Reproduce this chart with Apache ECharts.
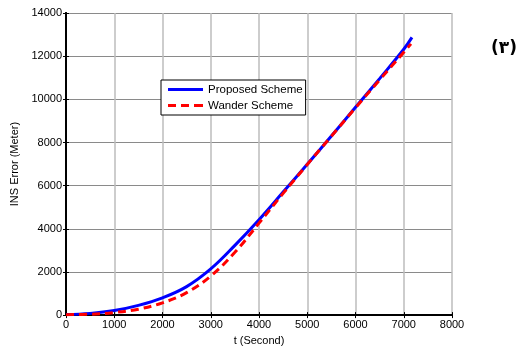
<!DOCTYPE html>
<html>
<head>
<meta charset="utf-8">
<script src="https://cdn.jsdelivr.net/npm/echarts@6/dist/echarts.min.js"></script>
<style>
  html, body { margin: 0; padding: 0; background: #fff; }
  #chart { width: 530px; height: 351px; }
</style>
</head>
<body>
<div id="chart"></div>
<script>
// Time stamps (s) and INS position error (m) for each scheme
const timeProposed = [0, 500, 1000, 1500, 2000, 2500, 3000, 3500, 4000, 4500, 5000, 5500, 6000, 6500, 7000, 7170];
const errProposed  = [30, 80, 210, 450, 800, 1320, 2140, 3230, 4420, 5700, 6990, 8300, 9630, 10960, 12320, 12870];
const timeWander   = [0, 500, 1000, 1500, 2000, 2500, 3000, 3500, 4000, 4500, 5000, 5500, 6000, 6500, 7000, 7150];
const errWander    = [20, 40, 120, 275, 570, 1040, 1810, 2910, 4260, 5640, 6980, 8290, 9610, 10900, 12180, 12570];

const seriesNames = ['Proposed Scheme', 'Wander Scheme'];
const xTicks = { min: 0, max: 8000, interval: 1000 };
const yTicks = { min: 0, max: 14000, interval: 2000 };

const pairs = (xs, ys) => xs.map((x, i) => [x, ys[i]]);
const font = 'Liberation Sans, Arial, sans-serif';

// Legend glyphs: a solid bar and a row of dashes
const solidIcon = 'path://M0,0H35V3H0Z';
const dashedIcon = 'path://M0,0H8V3H0Z M13,0H21V3H13Z M26,0H35V3H26Z';

const chart = echarts.init(document.getElementById('chart'));
const frameAxis = {
  axisLine: { show: true, lineStyle: { color: '#000', width: 2 } },
  axisTick: { show: true, inside: true, length: 3, lineStyle: { color: '#000' } },
  axisLabel: { show: false },
  splitLine: { show: false }
};

chart.setOption({
  animation: false,
  backgroundColor: '#fff',
  grid: { left: 66, right: 78, top: 13, bottom: 34 },
  legend: {
    data: [
      { name: seriesNames[0], icon: solidIcon, itemStyle: { color: '#0000ff' } },
      { name: seriesNames[1], icon: dashedIcon, itemStyle: { color: '#ff0000' } }
    ],
    orient: 'vertical',
    left: 161, top: 80,
    padding: [3, 3, 3, 7],
    itemGap: 3,
    itemWidth: 35, itemHeight: 3,
    backgroundColor: '#fff',
    borderColor: '#000', borderWidth: 1, borderRadius: 0,
    textStyle: { fontFamily: font, fontSize: 11.5, color: '#000', lineHeight: 13 }
  },
  xAxis: [{
    type: 'value', position: 'bottom', ...xTicks,
    name: 't (Second)', nameLocation: 'middle', nameGap: 17,
    nameTextStyle: { fontFamily: font, fontSize: 11, color: '#000' },
    axisLine: { show: true, onZero: false, lineStyle: { color: '#000', width: 2 } },
    axisTick: { show: true, inside: true, length: 3, lineStyle: { color: '#000' } },
    axisLabel: { fontFamily: font, fontSize: 11, color: '#000', margin: 4, formatter: v => String(v) },
    splitLine: { show: true, lineStyle: { color: '#bdbdbd', width: 1.5 } }
  }, {
    type: 'value', position: 'top', ...xTicks, ...frameAxis
  }],
  yAxis: [{
    type: 'value', position: 'left', ...yTicks,
    name: 'INS Error (Meter)', nameLocation: 'middle', nameGap: 41,
    nameTextStyle: { fontFamily: font, fontSize: 11, color: '#000' },
    axisLine: { show: true, onZero: false, lineStyle: { color: '#000', width: 2 } },
    axisTick: { show: true, inside: true, length: 3, lineStyle: { color: '#000' } },
    axisLabel: { fontFamily: font, fontSize: 11, color: '#000', margin: 4, formatter: v => String(v) },
    splitLine: { show: true, lineStyle: { color: '#8a8a8a', width: 1 } }
  }, {
    type: 'value', position: 'right', ...yTicks, ...frameAxis
  }],
  series: [{
    name: seriesNames[0], type: 'line', smooth: 0.4,
    showSymbol: false, symbol: 'none',
    data: pairs(timeProposed, errProposed),
    itemStyle: { color: '#0000ff' },
    lineStyle: { color: '#0000ff', width: 3 }
  }, {
    name: seriesNames[1], type: 'line', smooth: 0.4,
    showSymbol: false, symbol: 'none',
    data: pairs(timeWander, errWander),
    itemStyle: { color: '#ff0000' },
    lineStyle: { color: '#ff0000', width: 3, type: [8, 5] }
  }],
  graphic: [{
    type: 'text', left: 491, top: 40,
    style: { text: '(۳)', fontFamily: 'DejaVu Sans', fontSize: 17, fontWeight: 'bold', fill: '#000' }
  }]
});
</script>
</body>
</html>
